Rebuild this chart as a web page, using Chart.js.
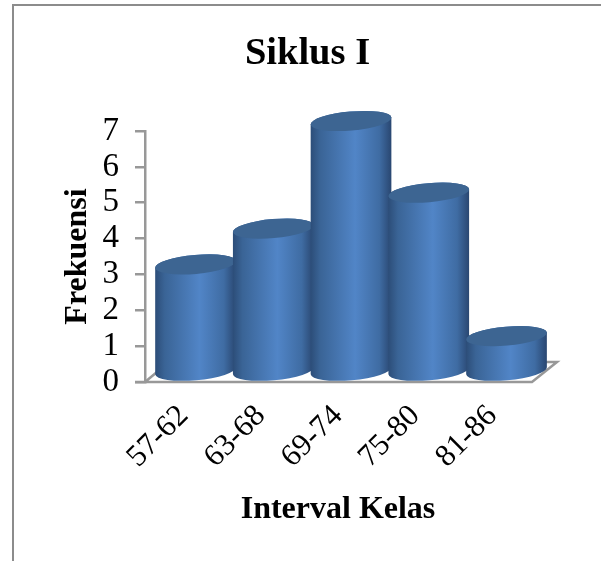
<!DOCTYPE html>
<html><head><meta charset="utf-8">
<style>
html,body{margin:0;padding:0;background:#fff;overflow:hidden;width:601px;height:561px}
#frame{position:absolute;left:12px;top:4px;width:700px;height:700px;border:2px solid #8c8c8c;box-sizing:border-box}
canvas{position:absolute;left:0;top:0}
</style>
<script src="https://cdn.jsdelivr.net/npm/chart.js@4"></script>
</head><body>
<div id="frame"></div>
<canvas id="c" width="601" height="561"></canvas>
<script>
const categories = ["57-62","63-68","69-74","75-80","81-86"];
const frekuensi = [3,4,7,5,1];
const yTicks = [0,1,2,3,4,5,6,7];
const chartTitle = "Siklus I";
const xTitle = "Interval Kelas";
const yTitle = "Frekuensi";

const serif = '"Liberation Serif","Times New Roman",serif';
const RX = 40.5, RY = 9.5, TILT = -5 * Math.PI / 180;

const cylinders = {
  id: 'cylinders',
  beforeDatasetsDraw(chart) {
    const {ctx} = chart, y = chart.scales.y, a = chart.chartArea;
    const y0 = y.getPixelForValue(0);
    ctx.save();
    ctx.strokeStyle = '#989898'; ctx.lineWidth = 2.5; ctx.lineJoin = 'miter';
    ctx.beginPath();
    ctx.moveTo(a.left, y0); ctx.lineTo(a.left + 24, y0 - 20);
    ctx.moveTo(a.left - 10, y0 ); ctx.lineTo(a.right + 1, y0);
    ctx.lineTo(a.right + 26, y0 - 20); ctx.lineTo(a.right + 10, y0 - 20);
    ctx.stroke();
    ctx.restore();
  },
  beforeDatasetDraw(chart, args) {
    const {ctx} = chart;
    args.meta.data.forEach(el => {
      const {x, y, base} = el.getProps(['x','y','base'], true);
      const cyTop = y - RY - 0.5, cyBase = base - RY - 0.5;
      const g = ctx.createLinearGradient(x - RX, 0, x + RX, 0);
      g.addColorStop(0, '#2c4d78');
      g.addColorStop(0.12, '#3a6496');
      g.addColorStop(0.55, '#5185c7');
      g.addColorStop(0.85, '#3f6ca3');
      g.addColorStop(1, '#294670');
      ctx.save();
      ctx.fillStyle = g;
      ctx.beginPath();
      ctx.ellipse(x, cyBase, RX, RY, TILT, 0, Math.PI);
      ctx.ellipse(x, cyTop, RX, RY, TILT, Math.PI, 2 * Math.PI);
      ctx.closePath();
      ctx.fill();
      ctx.fillStyle = '#3d6592';
      ctx.beginPath();
      ctx.ellipse(x, cyTop, RX, RY, TILT, 0, 2 * Math.PI);
      ctx.fill();
      ctx.restore();
    });
    return false;
  }
};

new Chart(document.getElementById('c'), {
  type: 'bar',
  data: { datasets: [{
    data: frekuensi.map((v, i) => ({x: i, y: v})),
    xAxisID: 'xb', yAxisID: 'y',
    barThickness: 80, backgroundColor: '#4f81bd', clip: false
  }]},
  options: {
    responsive: false, animation: false,
    layout: { padding: { left: 84, right: 70, top: 0, bottom: 0 } },
    plugins: {
      legend: { display: false }, tooltip: { enabled: false },
      title: { display: true, text: chartTitle, color: '#000',
        font: { family: serif, size: 38.5, weight: 'bold', lineHeight: 1.2 },
        padding: { top: 31, bottom: 53.8 } }
    },
    scales: {
      xb: { type: 'linear', display: false, position: 'bottom', offset: false, min: -0.65, max: 4.315 },
      x: { type: 'category', labels: categories, position: 'bottom', offset: true,
        afterFit: s => { s.height = 179; },
        grid: { display: false }, border: { display: false },
        ticks: { autoSkip: false, minRotation: 45, maxRotation: 45, color: '#000', padding: 8,
          font: { family: serif, size: 31 } },
        title: { display: true, text: xTitle, color: '#000', padding: { top: 0, bottom: 32 },
          font: { family: serif, size: 32, weight: 'bold' } } },
      y: { min: 0, max: 7, position: 'left',
        afterBuildTicks: s => { s.ticks = yTicks.map(v => ({value: v})); },
        afterFit: s => { s.width = 61; },
        grid: { drawOnChartArea: false, drawTicks: true, tickLength: 10, color: '#989898', lineWidth: 2.5 },
        border: { display: true, color: '#989898', width: 2.5 },
        ticks: { autoSkip: false, color: '#000', padding: 16, font: { family: serif, size: 33 } },
        title: { display: true, text: yTitle, color: '#000', padding: { top: -25, bottom: 0 },
          font: { family: serif, size: 32, weight: 'bold' } } }
    }
  },
  plugins: [cylinders]
});
</script>
</body></html>
